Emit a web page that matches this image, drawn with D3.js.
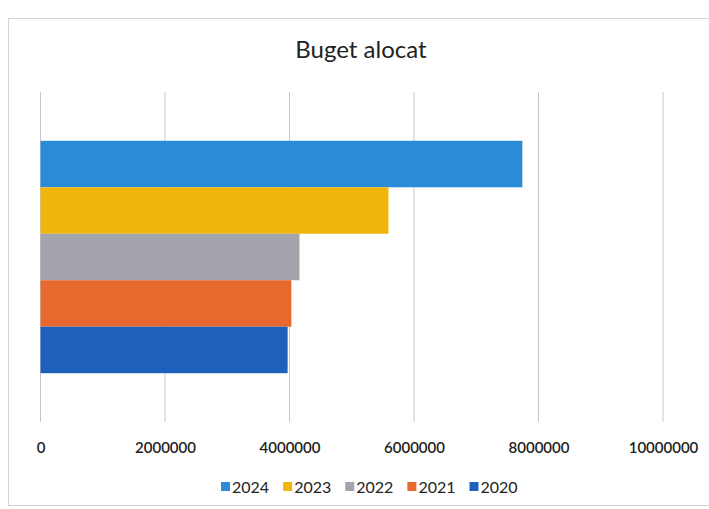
<!DOCTYPE html>
<html><head><meta charset="utf-8">
<script src="https://cdn.jsdelivr.net/npm/d3@7"></script>
<style>body{margin:0;background:#fff;}svg{display:block;}</style>
</head><body>
<svg id="c" width="709" height="509"></svg>
<script>
const title = "Buget alocat";
const series = ["2024", "2023", "2022", "2021", "2020"];
const values = [7740000, 5590000, 4160000, 4030000, 3970000];
const colors = ["#2a8bd6", "#f1b60c", "#a4a4ac", "#e8692d", "#1f60bd"];
const ticks = [0, 2000000, 4000000, 6000000, 8000000, 10000000];

const svg = d3.select("#c");
const font = "Lato, 'Open Sans', sans-serif";

svg.append("rect").attr("x", 8.5).attr("y", 18.5).attr("width", 720).attr("height", 487)
  .attr("fill", "#fff").attr("stroke", "#d4d4d8");

const x = d3.scaleLinear().domain([0, 10000000]).range([40.5, 663]);
const y = d3.scaleBand().domain(series).range([92, 422]).paddingInner(0).paddingOuter(1.05);

svg.append("g").selectAll("line").data(ticks).join("line")
  .attr("x1", d => x(d)).attr("x2", d => x(d))
  .attr("y1", 92).attr("y2", 422)
  .attr("stroke", "#c6c6d0").attr("stroke-width", 1);

svg.append("g").selectAll("rect").data(series).join("rect")
  .attr("x", x(0)).attr("y", d => y(d))
  .attr("width", (d, i) => x(values[i]) - x(0))
  .attr("height", y.bandwidth())
  .attr("fill", (d, i) => colors[i]);

const axis = d3.axisBottom(x).tickValues(ticks).tickSize(0).tickPadding(0).tickFormat(d3.format("d"));
const ag = svg.append("g").attr("transform", "translate(0,440)").call(axis);
ag.select(".domain").remove();
ag.selectAll("text").attr("font-family", font).attr("font-size", 15).attr("fill", "#222")
  .attr("font-weight", 600).attr("dy", "0.35em").attr("y", 8);

svg.append("text").attr("x", 361).attr("y", 58).attr("text-anchor", "middle")
  .attr("font-family", font).attr("font-size", 24).attr("fill", "#222").text(title);

const leg = svg.append("g");
let lx = 221;
series.forEach((s, i) => {
  const g = leg.append("g").attr("transform", `translate(${lx},487)`);
  g.append("rect").attr("x", 0).attr("y", -5).attr("width", 9).attr("height", 9).attr("fill", colors[i]);
  const t = g.append("text").attr("x", 11).attr("y", 0).attr("dy", "0.35em")
    .attr("font-family", font).attr("font-size", 16).attr("fill", "#222").text(s);
  lx += 11 + t.node().getComputedTextLength() + 14;
});
</script>
</body></html>
